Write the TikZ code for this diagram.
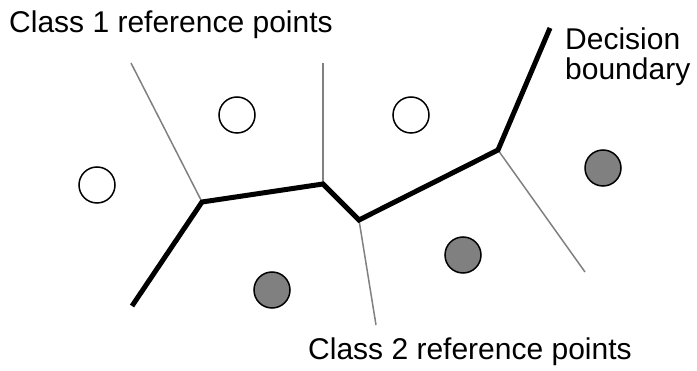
\documentclass[tikz,border=0pt]{standalone}
\usepackage{fontspec}
\setmainfont{Liberation Sans}
\begin{document}
\begin{tikzpicture}[x=1pt,y=-1pt,
  boundary/.style={line width=5pt,line join=miter,black},
  voronoi/.style={line width=1.5pt,gray},
  classone/.style={circle,draw=black,line width=1.5pt,fill=white,minimum size=36pt,inner sep=0pt},
  classtwo/.style={circle,draw=black,line width=1.5pt,fill=gray,minimum size=36pt,inner sep=0pt},
  lbl/.style={font=\fontsize{30}{36}\selectfont,inner sep=0pt,anchor=base west}]
\useasboundingbox (0,0) rectangle (697,371);
% vertices
\coordinate (s) at (132,306);
\coordinate (v1) at (202,202);
\coordinate (v2) at (323,184);
\coordinate (v3) at (359,220);
\coordinate (v4) at (498,150);
\coordinate (e) at (550,28);
\coordinate (t1) at (131,63);
\coordinate (t2) at (323,63);
\coordinate (t3) at (376,325);
\coordinate (t4) at (585,272);
% thin cell edges
\draw[voronoi] (v1) -- (t1);
\draw[voronoi] (v2) -- (t2);
\draw[voronoi] (v3) -- (t3);
\draw[voronoi] (v4) -- (t4);
% decision boundary
\draw[boundary] (s) -- (v1) -- (v2) -- (v3) -- (v4) -- (e);
% reference points
\node[classone] (a1) at (97,185) {};
\node[classone] (a2) at (237,115) {};
\node[classone] (a3) at (411,115) {};
\node[classtwo] (b1) at (272,290) {};
\node[classtwo] (b2) at (463,255) {};
\node[classtwo] (b3) at (603,168) {};
% labels
\node[lbl] (l1) at (9,33) {Class 1 reference points};
\node[lbl] (l2) at (565,50) {Decision};
\node[lbl] (l3) at (565,80) {boundary};
\node[lbl] (l4) at (308,360) {Class 2 reference points};
\end{tikzpicture}
\end{document}
